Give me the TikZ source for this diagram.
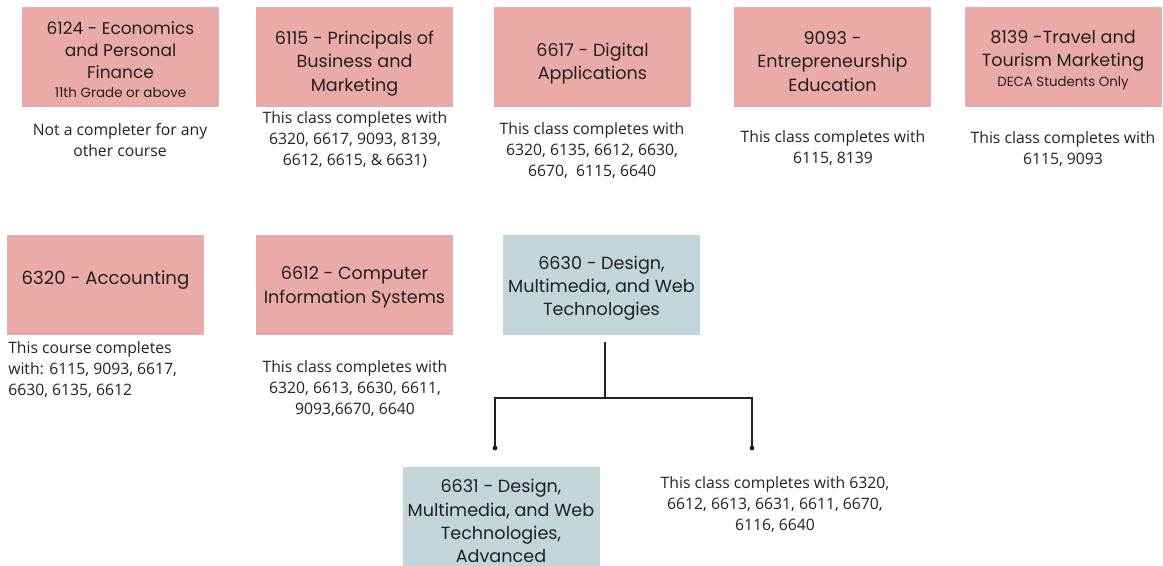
\documentclass[tikz,border=0pt]{standalone}
\usepackage{fontspec}
\setmainfont{Open Sans}
\newfontfamily\titlefont{Poppins}
\definecolor{rose}{HTML}{EAAAA8}
\definecolor{mist}{HTML}{C2D5D8}
\definecolor{ink}{HTML}{222222}

\begin{document}
\begin{tikzpicture}[x=0.75pt, y=-0.75pt,
  course/.style={rectangle, fill=rose, minimum width=147.75pt, minimum height=75pt,
    inner sep=0pt, align=center, text=ink, font=\titlefont\fontsize{13.2}{17.5}\selectfont},
  webcourse/.style={course, fill=mist},
  % last baseline sits half of #1 below the box centre
  lastbase/.style={text height=#1, text depth=0pt},
  note/.style={inner sep=0pt, align=center, text=ink, font=\fontsize{11.8}{15.75}\selectfont},
  link/.style={draw=ink, line width=1.1pt},
  tip/.style={fill=ink}]

\useasboundingbox (0,0) rectangle (1163,566);

% first row of courses
\node[course, lastbase=60.3pt, font=\titlefont\fontsize{12.75}{16.5}\selectfont] (c6124) at (120.5,57.5)
  {6124 - Economics\\and Personal\\Finance\\[-2.25pt]{\fontsize{10.1}{14}\selectfont 11th Grade or above}};
\node[course, lastbase=50.7pt] (c6115) at (354.5,57.5) {6115 - Principals of\\Business and\\Marketing};
\node[course, lastbase=33.3pt] (c6617) at (592.5,57.5) {6617 - Digital\\Applications};
\node[course, lastbase=50.7pt] (c9093) at (832.5,57.5) {9093 -\\Entrepreneurship\\Education};
\node[course, lastbase=43.2pt] (c8139) at (1063,57.5)
  {8139 -Travel and\\Tourism Marketing\\[-3pt]{\fontsize{10}{14}\selectfont DECA Students Only}};

% completer notes under the first row
\node[note] (n6124) at (120,140.5) {Not a completer for any\\other course};
\node[note] (n6115) at (355,139.5) {This class completes with\\6320, 6617, 9093, 8139,\\6612, 6615, \& 6631)};
\node[note] (n6617) at (592,151) {This class completes with\\6320, 6135, 6612, 6630,\\6670,\ \ 6115, 6640};
\node[note] (n9093) at (833,148.5) {This class completes with\\6115, 8139};
\node[note] (n8139) at (1063,149.5) {This class completes with\\6115, 9093};

% second row of courses
\node[course, lastbase=0pt, font=\titlefont\fontsize{13.6}{17.5}\selectfont] (c6320) at (105.5,285) {6320 - Accounting};
\node[course, lastbase=27.45pt] (c6612) at (354.5,285) {6612 - Computer\\Information Systems};
\node[webcourse, lastbase=46pt] (c6630) at (601.5,285) {6630 - Design,\\Multimedia, and Web\\Technologies};

\node[note, align=left, anchor=west] (n6320) at (8,370) {This course completes\\with: 6115, 9093, 6617,\\6630, 6135, 6612};
\node[note] (n6612) at (355,389) {This class completes with\\6320, 6613, 6630, 6611,\\9093,6670, 6640};

% advanced course and its completer note
\node[webcourse, lastbase=68.5pt] (c6631) at (501,517) {6631 - Design,\\Multimedia, and Web\\Technologies,\\Advanced};
\node[note] (n6630) at (775,505) {This class completes with 6320,\\6612, 6613, 6631, 6611, 6670,\\6116, 6640};

% branching connector below 6630
\coordinate (fork) at (605,398);
\coordinate (tipL) at (495,448);
\coordinate (tipR) at (752,448);
\draw[link] ([yshift=-5.25pt]fork |- c6630.south) -- (fork);
\draw[link] (tipL) |- (fork) -| (tipR);
\fill[tip] (tipL) circle (1.8pt);
\fill[tip] (tipR) circle (1.8pt);
\end{tikzpicture}
\end{document}
